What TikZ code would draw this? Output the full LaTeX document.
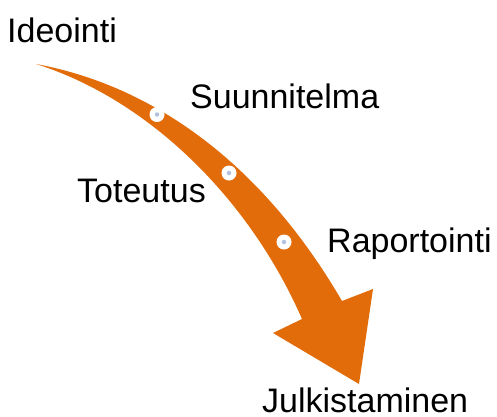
\documentclass[tikz,border=0pt]{standalone}
\usepackage{fontspec}
\setmainfont{Liberation Sans}
\definecolor{arroworange}{RGB}{227,108,10}
\definecolor{dotblue}{RGB}{178,194,222}
\begin{document}
\begin{tikzpicture}[x=1pt,y=-1pt,
  label/.style={anchor=base west,inner sep=0pt,font=\fontsize{34}{40}\selectfont},
  ring/.style={circle,fill=white,minimum size=15pt,inner sep=0pt},
  core/.style={circle,fill=dotblue,minimum size=4.5pt,inner sep=0pt}]
\useasboundingbox (0,0) rectangle (497,416);
% arrow
\fill[arroworange] (36,64) .. controls (150,85) and (260,160) .. (342,301)
  -- (373,289) -- (359,384) -- (273,333) -- (302,319)
  .. controls (250,200) and (150,100) .. (36,64) -- cycle;
% dots
\foreach \n/\p in {d1/{(157,114.5)},d2/{(229,173)},d3/{(284,242)}}{
  \node[ring] (\n) at \p {};
  \node[core] (\n c) at \p {};
}
% labels
\node[label] (ide) at (7,42) {Ideointi};
\node[label] (suu) at (190,108) {Suunnitelma};
\node[label] (tot) at (77,202) {Toteutus};
\node[label] (rap) at (327,252) {Raportointi};
\node[label] (jul) at (262,412) {Julkistaminen};
\end{tikzpicture}
\end{document}
